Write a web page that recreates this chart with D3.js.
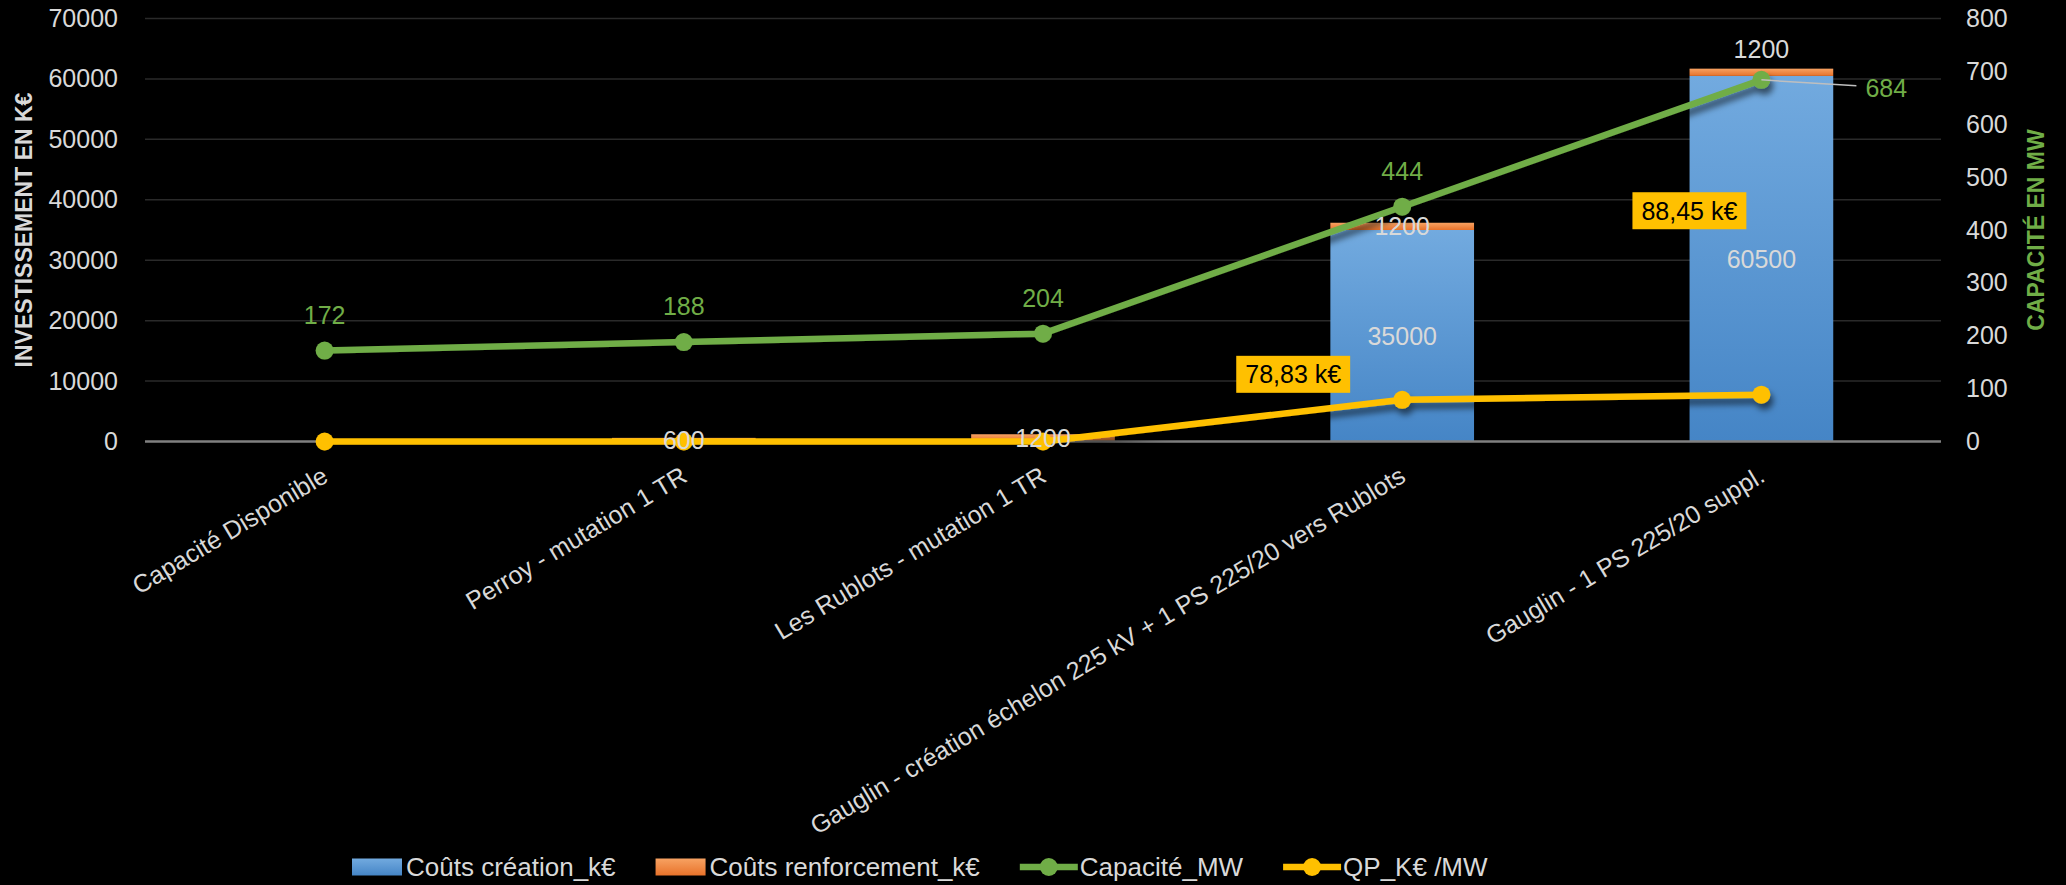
<!DOCTYPE html>
<html>
<head>
<meta charset="utf-8">
<script src="https://cdn.jsdelivr.net/npm/d3@7"></script>
<style>
  html, body { margin: 0; padding: 0; background: #000; }
  svg { display: block; }
  text { font-family: "Liberation Sans", Arial, sans-serif; }
</style>
</head>
<body>
<svg id="chart" width="2066" height="885"></svg>
<script>
// ---------------- DATA ----------------
const categories = [
  "Capacité Disponible",
  "Perroy - mutation 1 TR",
  "Les Rublots - mutation 1 TR",
  "Gauglin - création échelon 225 kV + 1 PS 225/20 vers Rublots",
  "Gauglin - 1 PS 225/20 suppl."
];
const coutsCreation = [null, null, null, 35000, 60500];
const coutsRenforcement = [null, 600, 1200, 1200, 1200];
const capaciteMW = [172, 188, 204, 444, 684];
const qpKeuroMW = [0, 0, 0, 78.83, 88.45];
const qpLabelShown = [false, false, false, true, true];
const leftTicks = [0, 10000, 20000, 30000, 40000, 50000, 60000, 70000];
const rightTicks = [0, 100, 200, 300, 400, 500, 600, 700, 800];
const seriesNames = ["Coûts création_k€", "Coûts renforcement_k€", "Capacité_MW", "QP_K€ /MW"];
const leftTitle = "INVESTISSEMENT EN K€";
const rightTitle = "CAPACITÉ EN MW";

// ---------------- LAYOUT / STYLE ----------------
const W = 2066, H = 885;
const plot = { left: 145, right: 1941, top: 18.5, bottom: 441.5 };
const colors = {
  blueTop: "#72AADF", blueBot: "#4585C6",
  orangeTop: "#F7A262", orangeBot: "#E8722A",
  green: "#70AD47", yellow: "#FFC000",
  text: "#D9D9D9", grid: "#2A2A2A", axis: "#808080"
};
const fontSize = 25;
const legendFontSize = 26;
// label offsets (position tweaks, in px)
const capLabelOffset = [[0, -36], [0, -36], [0, -36], [0, -36], [104, 8]];
const capLeader = [false, false, false, false, true];
const qpLabelOffset = [[0, 0], [0, 0], [0, 0], [-109, -25.5], [-72, -184]];
const renfLabelAbove = [false, false, false, false, true];

const fr = d3.formatLocale({ decimal: ",", thousands: " ", grouping: [3], currency: ["", "€"] });
const fmt2 = fr.format(".2f");

const svg = d3.select("#chart");
svg.append("rect").attr("width", W).attr("height", H).attr("fill", "#000");

const defs = svg.append("defs");
function grad(id, top, bot) {
  const g = defs.append("linearGradient").attr("id", id)
    .attr("x1", 0).attr("y1", 0).attr("x2", 0).attr("y2", 1);
  g.append("stop").attr("offset", "0%").attr("stop-color", top);
  g.append("stop").attr("offset", "100%").attr("stop-color", bot);
}
grad("gBlue", colors.blueTop, colors.blueBot);
grad("gOrange", colors.orangeTop, colors.orangeBot);
const f = defs.append("filter").attr("id", "shadow")
  .attr("x", "-10%").attr("y", "-50%").attr("width", "120%").attr("height", "200%");
f.append("feDropShadow").attr("dx", 3).attr("dy", 6).attr("stdDeviation", 3)
  .attr("flood-color", "#000").attr("flood-opacity", 0.55);

// ---------------- SCALES ----------------
const x = d3.scaleBand().domain(categories).range([plot.left, plot.right])
  .paddingInner(0.6).paddingOuter(0.3);
const cx = c => x(c) + x.bandwidth() / 2;
const yL = d3.scaleLinear().domain([0, 70000]).range([plot.bottom, plot.top]);
const yR = d3.scaleLinear().domain([0, 800]).range([plot.bottom, plot.top]);

// ---------------- GRID ----------------
svg.append("g").selectAll("line").data(leftTicks.filter(d => d > 0)).join("line")
  .attr("x1", plot.left).attr("x2", plot.right)
  .attr("y1", d => yL(d)).attr("y2", d => yL(d))
  .attr("stroke", colors.grid).attr("stroke-width", 1.5);

// ---------------- AXES ----------------
const axL = svg.append("g").attr("transform", `translate(${plot.left - 27},0)`)
  .call(d3.axisLeft(yL).tickValues(leftTicks).tickSize(0).tickPadding(0).tickFormat(d3.format("d")));
axL.select(".domain").remove();
axL.selectAll("text").attr("fill", colors.text).style("font-size", fontSize + "px")
  .style("font-family", '"Liberation Sans", Arial, sans-serif');

const axR = svg.append("g").attr("transform", `translate(${plot.right + 25},0)`)
  .call(d3.axisRight(yR).tickValues(rightTicks).tickSize(0).tickPadding(0).tickFormat(d3.format("d")));
axR.select(".domain").remove();
axR.selectAll("text").attr("fill", colors.text).style("font-size", fontSize + "px")
  .style("font-family", '"Liberation Sans", Arial, sans-serif');

const axB = svg.append("g").attr("transform", `translate(0,${plot.bottom})`)
  .call(d3.axisBottom(x).tickSize(0).tickFormat(""));
axB.select(".domain").remove();
axB.selectAll(".tick").each(function (d) {
  d3.select(this).append("text")
    .attr("transform", `translate(5,${39}) rotate(-31)`)
    .attr("text-anchor", "end")
    .attr("fill", colors.text)
    .style("font-size", fontSize + "px")
    .style("font-family", '"Liberation Sans", Arial, sans-serif')
    .text(d);
});

// titles
svg.append("text").attr("transform", `translate(24,${(plot.top + plot.bottom) / 2}) rotate(-90)`)
  .attr("text-anchor", "middle").attr("dy", "0.36em")
  .attr("fill", colors.text).attr("font-weight", "bold").style("font-size", "23px").text(leftTitle);
svg.append("text").attr("transform", `translate(2036,${(plot.top + plot.bottom) / 2}) rotate(-90)`)
  .attr("text-anchor", "middle").attr("dy", "0.36em")
  .attr("fill", colors.green).attr("font-weight", "bold").style("font-size", "23px").text(rightTitle);

// ---------------- BARS ----------------
const rows = categories.map((c, i) => ({ cat: c, creation: coutsCreation[i] || 0, renforcement: coutsRenforcement[i] || 0 }));
const stack = d3.stack().keys(["creation", "renforcement"])(rows);
const fills = { creation: "url(#gBlue)", renforcement: "url(#gOrange)" };
const barG = svg.append("g");
stack.forEach(s => {
  barG.append("g").selectAll("rect").data(s.filter(d => d[1] - d[0] > 0)).join("rect")
    .attr("x", d => x(d.data.cat)).attr("width", x.bandwidth())
    .attr("y", d => yL(d[1])).attr("height", d => yL(d[0]) - yL(d[1]))
    .attr("fill", fills[s.key]);
});

// baseline
svg.append("line").attr("x1", plot.left).attr("x2", plot.right)
  .attr("y1", plot.bottom).attr("y2", plot.bottom)
  .attr("stroke", colors.axis).attr("stroke-width", 2.5);

// ---------------- LINES ----------------
function drawLine(values, scale, color) {
  const pts = categories.map((c, i) => [cx(c), scale(values[i])]);
  const g = svg.append("g").attr("filter", "url(#shadow)");
  g.append("path").attr("d", d3.line()(pts)).attr("fill", "none")
    .attr("stroke", color).attr("stroke-width", 6.5).attr("stroke-linejoin", "round");
  g.selectAll("circle").data(pts).join("circle")
    .attr("cx", d => d[0]).attr("cy", d => d[1]).attr("r", 9).attr("fill", color);
  return pts;
}
const capPts = drawLine(capaciteMW, yR, colors.green);
const qpPts = drawLine(qpKeuroMW, yR, colors.yellow);

// ---------------- LABELS ----------------
const lab = svg.append("g").style("font-size", fontSize + "px");
// bar labels
categories.forEach((c, i) => {
  const v1 = coutsCreation[i], v2 = coutsRenforcement[i];
  if (v1 != null) {
    lab.append("text").attr("x", cx(c)).attr("y", (yL(0) + yL(v1)) / 2).attr("dy", "0.36em")
      .attr("text-anchor", "middle").attr("fill", colors.text).text(v1);
  }
  if (v2 != null) {
    const base = v1 || 0;
    const yy = renfLabelAbove[i] ? yL(base + v2) - 20 : (yL(base) + yL(base + v2)) / 2;
    lab.append("text").attr("x", cx(c)).attr("y", yy).attr("dy", "0.36em")
      .attr("text-anchor", "middle").attr("fill", colors.text).text(v2);
  }
});
// capacity labels
capPts.forEach((p, i) => {
  const [dx, dy] = capLabelOffset[i];
  if (capLeader[i]) {
    lab.append("line").attr("x1", p[0]).attr("y1", p[1]).attr("x2", p[0] + dx - 9).attr("y2", p[1] + dy - 2)
      .attr("stroke", "#BFBFBF").attr("stroke-width", 1.5);
    lab.append("text").attr("x", p[0] + dx).attr("y", p[1] + dy).attr("dy", "0.36em")
      .attr("text-anchor", "start").attr("fill", colors.green).text(capaciteMW[i]);
  } else {
    lab.append("text").attr("x", p[0] + dx).attr("y", p[1] + dy).attr("dy", "0.36em")
      .attr("text-anchor", "middle").attr("fill", colors.green).text(capaciteMW[i]);
  }
});
// QP labels (boxed)
qpPts.forEach((p, i) => {
  if (!qpLabelShown[i]) return;
  const [dx, dy] = qpLabelOffset[i];
  const g = lab.append("g").attr("transform", `translate(${p[0] + dx},${p[1] + dy})`);
  const t = g.append("text").attr("text-anchor", "middle").attr("dy", "0.36em")
    .attr("fill", "#000").text(fmt2(qpKeuroMW[i]) + " k€");
  const w = t.node().getComputedTextLength() + 18;
  g.insert("rect", "text").attr("x", -w / 2).attr("y", -18.5).attr("width", w).attr("height", 37)
    .attr("fill", colors.yellow);
});

// ---------------- LEGEND ----------------
const leg = svg.append("g").attr("transform", "translate(352,867)").style("font-size", legendFontSize + "px");
const legendKinds = ["rect", "rect", "line", "line"];
const legendFill = ["url(#gBlue)", "url(#gOrange)", colors.green, colors.yellow];
let lx = 0;
seriesNames.forEach((name, i) => {
  if (legendKinds[i] === "rect") {
    leg.append("rect").attr("x", lx).attr("y", -8.5).attr("width", 50).attr("height", 17).attr("fill", legendFill[i]);
    lx += 54;
  } else {
    leg.append("line").attr("x1", lx).attr("x2", lx + 58).attr("y1", 0).attr("y2", 0)
      .attr("stroke", legendFill[i]).attr("stroke-width", 6.5);
    leg.append("circle").attr("cx", lx + 29).attr("cy", 0).attr("r", 9).attr("fill", legendFill[i]);
    lx += 60;
  }
  const t = leg.append("text").attr("x", lx).attr("y", 0).attr("dy", "0.36em").attr("fill", colors.text).text(name);
  lx += t.node().getComputedTextLength() + 40;
});
</script>
</body>
</html>
